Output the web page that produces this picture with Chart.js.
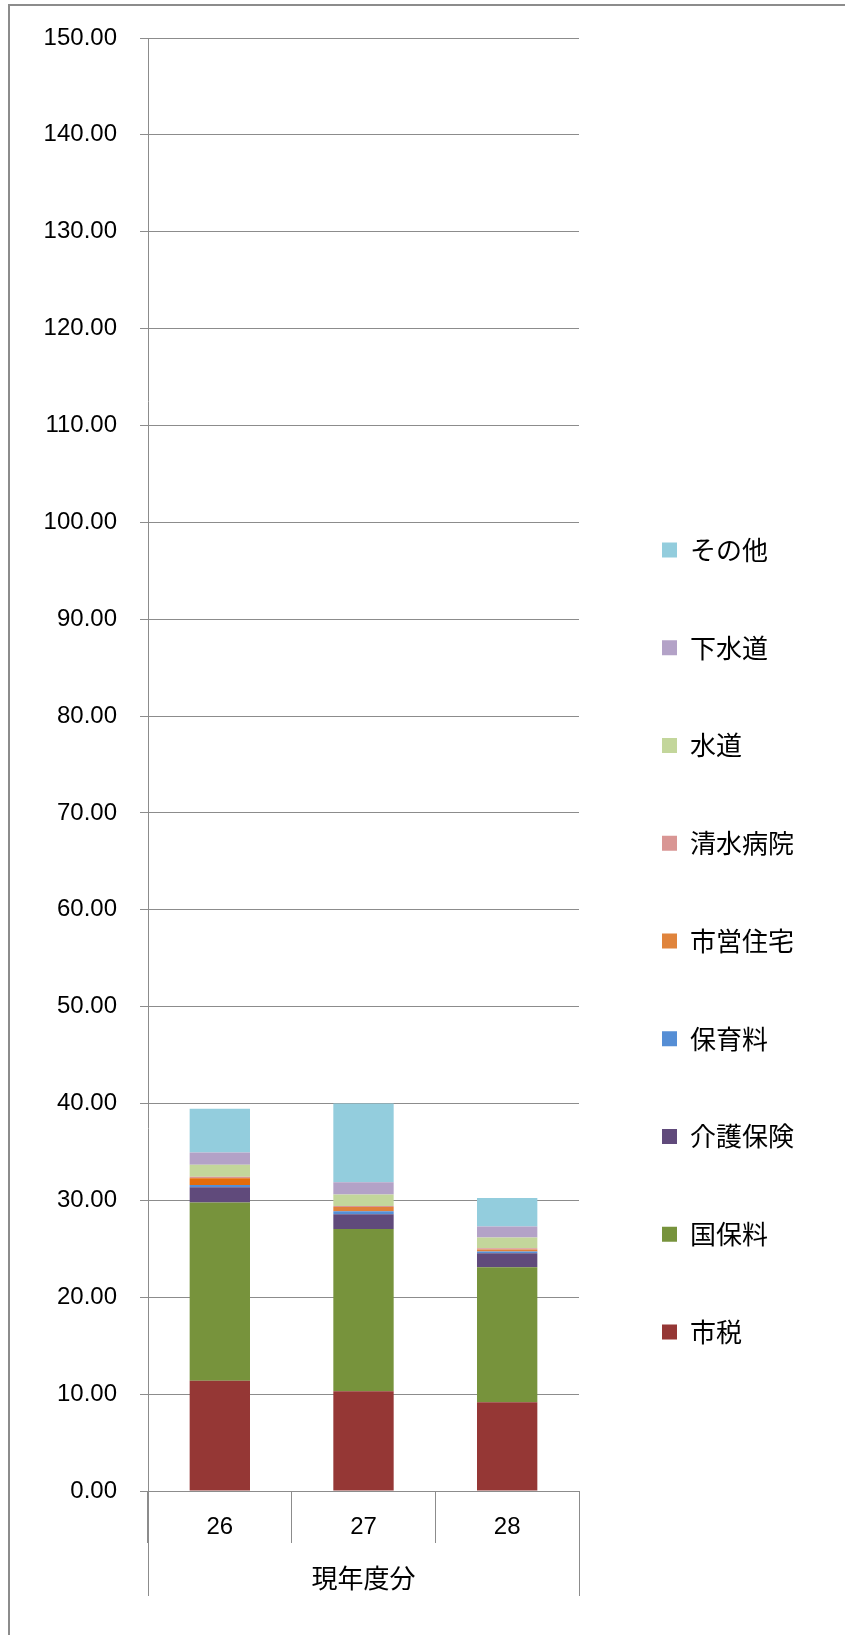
<!DOCTYPE html>
<html>
<head>
<meta charset="utf-8">
<script src="https://cdn.jsdelivr.net/npm/chart.js@4.4.1/dist/chart.umd.min.js"></script>
<style>
  html, body { margin: 0; padding: 0; background: #ffffff; }
  #wrap { position: relative; width: 845px; height: 1635px; overflow: hidden; }
  #frame { position: absolute; left: 8px; top: 4px; width: 900px; height: 1700px;
           border-top: 2px solid #8c8c8c; border-left: 2px solid #8c8c8c; pointer-events: none; }
  canvas { position: absolute; left: 0; top: 0; }
</style>
</head>
<body>
<div id="wrap">
  <canvas id="c" width="845" height="1635"></canvas>
  <div id="frame"></div>
</div>
<script>
// ---- data ----
const categories = ['26', '27', '28'];
const groupLabel = '現年度分';
const seriesNames = ['市税', '国保料', '介護保険', '保育料', '市営住宅', '清水病院', '水道', '下水道', 'その他'];
const shizei   = [11.39, 10.29, 9.16];
const kokuho   = [18.39, 16.77, 13.94];
const kaigo    = [1.58, 1.51, 1.44];
const hoiku    = [0.24, 0.31, 0.18];
const shiei    = [0.69, 0.45, 0.20];
const shimizu  = [0.14, 0.10, 0.14];
const suido    = [1.24, 1.17, 1.10];
const gesui    = [1.27, 1.28, 1.14];
const sonota   = [4.51, 8.12, 2.96];
const yTickMin = 0, yTickMax = 150, yTickStep = 10;

// ---- styles ----
const seriesValues = [shizei, kokuho, kaigo, hoiku, shiei, shimizu, suido, gesui, sonota];
const barColors = ['#953735', '#77933C', '#604A7B', '#558ED5', ['#E46C0A', '#E0803A', '#E0803A'],
                   '#D99694', '#C3D69B', '#B3A2C7', '#93CDDD'];
const legendColors = ['#953735', '#77933C', '#604A7B', '#558ED5', '#E0843C',
                      '#D99694', '#C3D69B', '#B3A2C7', '#93CDDD'];
const GRID = '#8c8c8c';
const FONT = "'Liberation Sans', 'Noto Sans CJK JP', sans-serif";
const CJK = "'Noto Sans CJK JP', 'Liberation Sans', sans-serif";

const PLOT_LEFT = 148, PLOT_RIGHT = 579, PLOT_TOP = 38, PLOT_BOTTOM = 1491, AXIS_BOTTOM = 1596;
const LEG_PAD = 71.75, LEG_BOX_X = 662, LEG_FIRST_Y = 537;

const legendPlace = {
  id: 'legendPlace',
  beforeLayout(chart) {
    const lg = chart.legend;
    if (lg && !lg._patched) {
      const orig = lg.fit.bind(lg);
      lg.fit = function () { orig(); this.width = chart.width - PLOT_RIGHT; };
      lg._patched = true;
    }
  },
  afterLayout(chart) {
    const lg = chart.legend;
    const w = lg.right - lg.left, h = lg.bottom - lg.top;
    lg.left = LEG_BOX_X - LEG_PAD; lg.right = lg.left + w;
    lg.top = LEG_FIRST_Y - LEG_PAD; lg.bottom = lg.top + h;
  }
};

const groupLines = {
  id: 'groupLines',
  afterDraw(chart) {
    const x = chart.scales.x, ctx = chart.ctx;
    ctx.save();
    ctx.strokeStyle = GRID;
    ctx.lineWidth = 1;
    [x.left, x.right].forEach(px => {
      const p = Math.round(px) + 0.5;
      ctx.beginPath();
      ctx.moveTo(p, chart.chartArea.bottom);
      ctx.lineTo(p, x.bottom);
      ctx.stroke();
    });
    ctx.restore();
  }
};

const datasets = seriesNames.map((name, i) => ({
  label: name,
  data: seriesValues[i],
  backgroundColor: barColors[i],
  borderWidth: 0,
  barPercentage: 0.42,
  categoryPercentage: 1.0
}));

new Chart(document.getElementById('c'), {
  type: 'bar',
  data: { labels: categories, datasets },
  plugins: [legendPlace, groupLines],
  options: {
    responsive: false,
    animation: false,
    devicePixelRatio: 1,
    layout: { padding: { top: PLOT_TOP, left: 0, right: 0, bottom: 1635 - AXIS_BOTTOM } },
    plugins: {
      tooltip: { enabled: false },
      legend: {
        position: 'right',
        align: 'start',
        reverse: true,
        labels: {
          boxWidth: 15, boxHeight: 15, padding: LEG_PAD,
          color: '#000', font: { family: CJK, size: 26 },
          generateLabels(chart) {
            const items = Chart.defaults.plugins.legend.labels.generateLabels(chart);
            return items.map(it => Object.assign(it, { fillStyle: legendColors[it.datasetIndex], strokeStyle: legendColors[it.datasetIndex], lineWidth: 0 }));
          }
        }
      }
    },
    scales: {
      x: {
        stacked: true,
        afterFit(s) { s.height = AXIS_BOTTOM - PLOT_BOTTOM; },
        grid: { display: true, offset: true, drawOnChartArea: false, drawTicks: true, tickLength: 52, color: GRID, lineWidth: 1 },
        border: { display: true, color: GRID, width: 1 },
        ticks: { color: '#000', font: { family: FONT, size: 24 }, padding: -30.4, maxRotation: 0, autoSkip: false },
        title: { display: true, text: groupLabel, color: '#000', font: { family: CJK, size: 26 }, padding: { top: 0, bottom: 2.4 } }
      },
      y: {
        stacked: true,
        min: yTickMin, max: yTickMax,
        afterFit(s) { s.width = PLOT_LEFT; },
        grid: { color: GRID, lineWidth: 1, drawTicks: true, tickLength: 8 },
        border: { display: true, color: GRID, width: 1 },
        ticks: { stepSize: yTickStep, color: '#000', font: { family: FONT, size: 24 }, padding: 23,
                 callback: v => Number(v).toFixed(2) }
      }
    }
  }
});
</script>
</body>
</html>
